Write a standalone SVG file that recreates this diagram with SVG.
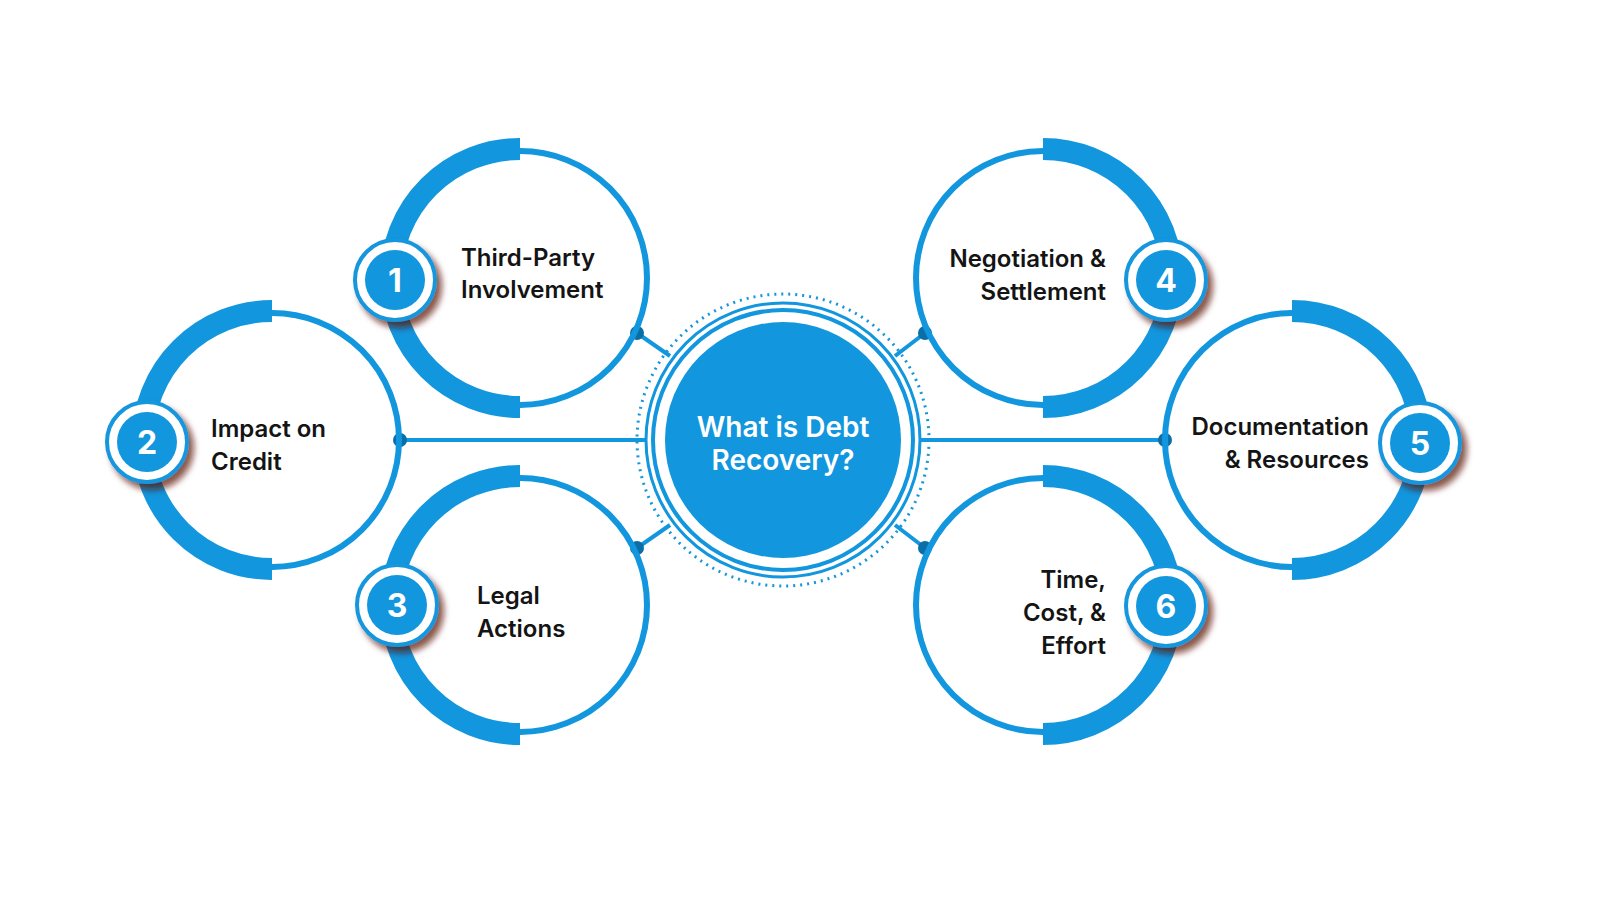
<svg xmlns="http://www.w3.org/2000/svg" width="1600" height="900" viewBox="0 0 1600 900">
<defs>
<style>
.ring{fill:none;stroke:#1296dd;stroke-width:6}
.band{fill:none;stroke:#1296dd;stroke-width:22}
.lbl{font-family:Inter,"Liberation Sans",sans-serif;font-weight:600;font-size:24px;fill:#141414}
.num{font-family:Inter,"Liberation Sans",sans-serif;font-weight:700;font-size:32px;fill:#fff;text-anchor:middle}
.con{stroke:#1296dd;stroke-width:4;fill:none}
.dot{fill:#0b6ea6}
</style>
<filter id="sh" x="-50%" y="-50%" width="200%" height="200%">
<feDropShadow dx="5" dy="6" stdDeviation="3" flood-color="#5a0a00" flood-opacity="0.7"/>
</filter>
<g id="badge">
<circle r="40" fill="#fff" stroke="#1296dd" stroke-width="4" filter="url(#sh)"/>
<circle r="30" fill="#1296dd"/>
</g>
</defs>
<rect width="1600" height="900" fill="#fff"/>
<g id="connectors">
<line class="con" x1="400" y1="440" x2="645" y2="440"/>
<line class="con" x1="920" y1="440" x2="1165" y2="440"/>
<line class="con" x1="637" y1="333" x2="670" y2="356"/>
<line class="con" x1="637" y1="548" x2="670" y2="525"/>
<line class="con" x1="925" y1="333" x2="895" y2="356"/>
<line class="con" x1="925" y1="548" x2="895" y2="525"/>
<circle class="dot" cx="400" cy="440" r="7"/>
<circle class="dot" cx="1165" cy="440" r="7"/>
<circle class="dot" cx="637" cy="333" r="7"/>
<circle class="dot" cx="637" cy="548" r="7"/>
<circle class="dot" cx="925" cy="333" r="7"/>
<circle class="dot" cx="925" cy="548" r="7"/>
</g>
<g id="center">
<circle cx="783" cy="440" r="146" fill="none" stroke="#1296dd" stroke-width="3" stroke-dasharray="2 5"/>
<circle cx="783" cy="440" r="137" fill="none" stroke="#1296dd" stroke-width="3"/>
<circle cx="783" cy="440" r="130" fill="none" stroke="#1296dd" stroke-width="4"/>
<circle cx="783" cy="440" r="118" fill="#1296dd"/>
<text x="783" y="437" text-anchor="middle" font-family="Inter,'Liberation Sans',sans-serif" font-weight="600" font-size="28" fill="#fff">What is Debt</text>
<text x="783" y="470" text-anchor="middle" font-family="Inter,'Liberation Sans',sans-serif" font-weight="600" font-size="28" fill="#fff">Recovery?</text>
</g>
<g id="node1">
<circle class="ring" cx="520" cy="278" r="127"/>
<path class="band" d="M520 149 A129 129 0 0 0 520 407"/>
<use href="#badge" x="395" y="280"/>
<text class="num" x="395" y="292">1</text>
<text class="lbl" x="461" y="266">Third-Party</text>
<text class="lbl" x="461" y="298">Involvement</text>
</g>
<g id="node2">
<circle class="ring" cx="272" cy="440" r="127"/>
<path class="band" d="M272 311 A129 129 0 0 0 272 569"/>
<use href="#badge" x="147" y="442"/>
<text class="num" x="147" y="454">2</text>
<text class="lbl" x="211" y="437">Impact on</text>
<text class="lbl" x="211" y="470">Credit</text>
</g>
<g id="node3">
<circle class="ring" cx="520" cy="605" r="127"/>
<path class="band" d="M520 476 A129 129 0 0 0 520 734"/>
<use href="#badge" x="397" y="605"/>
<text class="num" x="397" y="617">3</text>
<text class="lbl" x="477" y="604">Legal</text>
<text class="lbl" x="477" y="637">Actions</text>
</g>
<g id="node4">
<circle class="ring" cx="1043" cy="278" r="127"/>
<path class="band" d="M1043 149 A129 129 0 0 1 1043 407"/>
<use href="#badge" x="1166" y="280"/>
<text class="num" x="1166" y="292">4</text>
<text class="lbl" x="1106" y="267" text-anchor="end">Negotiation &amp;</text>
<text class="lbl" x="1106" y="300" text-anchor="end">Settlement</text>
</g>
<g id="node5">
<circle class="ring" cx="1292" cy="440" r="127"/>
<path class="band" d="M1292 311 A129 129 0 0 1 1292 569"/>
<use href="#badge" x="1420" y="443"/>
<text class="num" x="1420" y="455">5</text>
<text class="lbl" x="1369" y="435" text-anchor="end">Documentation</text>
<text class="lbl" x="1369" y="468" text-anchor="end">&amp; Resources</text>
</g>
<g id="node6">
<circle class="ring" cx="1043" cy="605" r="127"/>
<path class="band" d="M1043 476 A129 129 0 0 1 1043 734"/>
<use href="#badge" x="1166" y="606"/>
<text class="num" x="1166" y="618">6</text>
<text class="lbl" x="1106" y="588" text-anchor="end">Time,</text>
<text class="lbl" x="1106" y="621" text-anchor="end">Cost, &amp;</text>
<text class="lbl" x="1106" y="654" text-anchor="end">Effort</text>
</g>
</svg>
